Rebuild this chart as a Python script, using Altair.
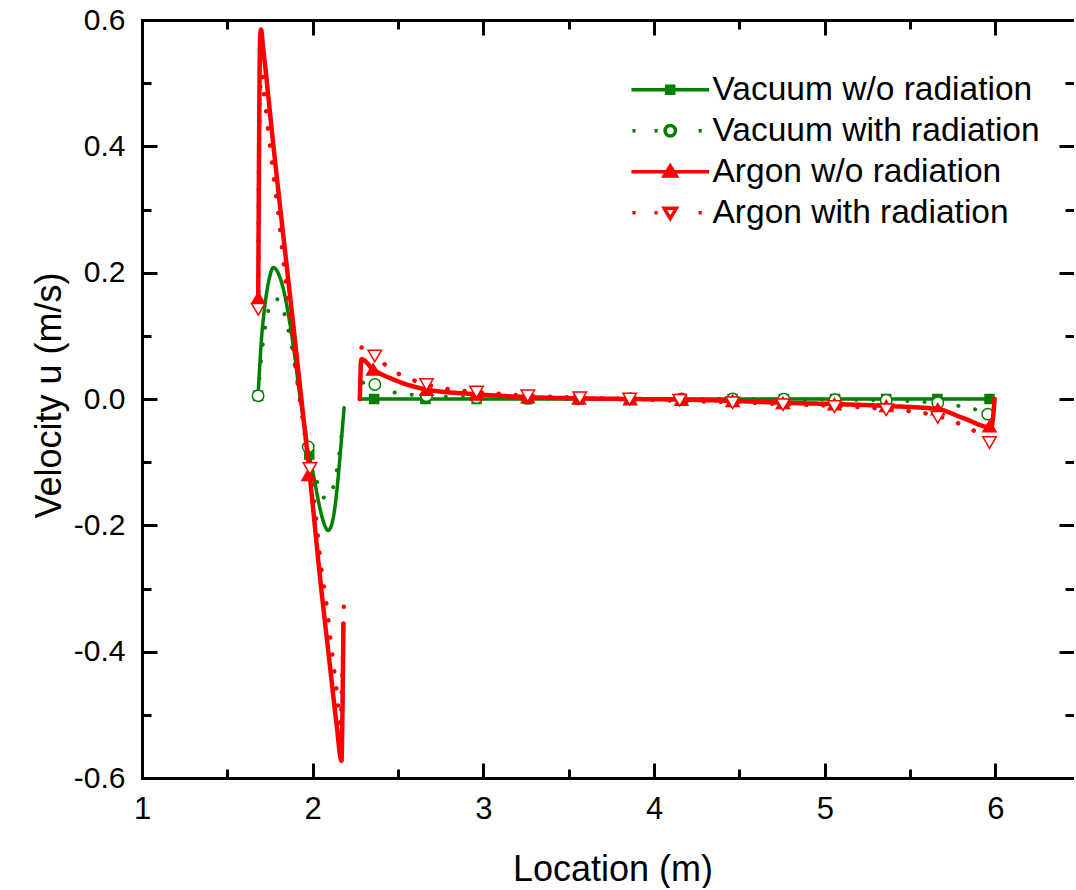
import altair as alt
import pandas as pd

GREEN = "#008000"
RED = "#ff0000"
FONT = "Liberation Sans"

SERIES = ["Vacuum w/o radiation", "Vacuum with radiation",
          "Argon w/o radiation", "Argon with radiation"]

# ---------------- Vacuum w/o radiation (green solid, filled squares)
vac_nr_x1 = [1.680, 1.700, 1.720, 1.745, 1.770, 1.800, 1.830, 1.860, 1.890, 1.920, 1.950,
             1.980, 2.010, 2.040, 2.070, 2.090, 2.110, 2.130, 2.150, 2.165, 2.184]
vac_nr_y1 = [0.005, 0.095, 0.148, 0.190, 0.208, 0.198, 0.172, 0.130, 0.078, 0.015, -0.040,
             -0.088, -0.128, -0.170, -0.200, -0.208, -0.200, -0.172, -0.122, -0.075, -0.014]
vac_nr_x2 = [2.276, 3.0, 4.0, 5.0, 5.975]
vac_nr_y2 = [0.0, 0.0, 0.0, 0.0, 0.0]
vac_nr_mx = [1.68, 1.98, 2.36, 2.66, 2.96, 3.26, 3.56, 3.86, 4.16, 4.46, 4.76, 5.06, 5.36, 5.66, 5.965]
vac_nr_my = [0.005, -0.088, 0, 0, 0, 0, 0, 0, 0, 0, 0, 0, 0, 0, 0]

# ---------------- Vacuum with radiation (green dotted, open circles)
vac_r_x1 = [1.680, 1.700, 1.720, 1.745, 1.770, 1.795, 1.820, 1.850, 1.875, 1.900, 1.930,
            1.960, 1.990, 2.020, 2.050, 2.080, 2.110, 2.140, 2.160, 2.176]
vac_r_y1 = [0.005, 0.068, 0.110, 0.145, 0.158, 0.158, 0.146, 0.118, 0.086, 0.045, -0.005,
            -0.055, -0.095, -0.126, -0.150, -0.158, -0.148, -0.114, -0.078, -0.040]
vac_r_x2 = [2.276, 2.282, 2.316, 2.364, 2.442, 2.560, 2.667, 2.840, 3.100, 3.500, 4.000,
            4.500, 5.000, 5.360, 5.550, 5.662, 5.760, 5.850, 5.955, 5.980]
vac_r_y2 = [0.000, 0.022, 0.028, 0.023, 0.013, 0.0075, 0.005, 0.003, 0.0015, 0.0005, 0.000,
            0.000, -0.001, -0.002, -0.004, -0.006, -0.010, -0.014, -0.024, -0.027]
vac_r_mx = [1.68, 1.974, 2.364, 2.667, 2.96, 3.26, 3.56, 3.86, 4.16, 4.46, 4.76, 5.06, 5.36, 5.662, 5.955]
vac_r_my = [0.005, -0.076, 0.023, 0.005, 0.002, 0.001, 0.0005, 0, 0, 0, -0.0005, -0.001, -0.002, -0.006, -0.024]

# ---------------- Argon w/o radiation (red solid, filled up-triangles)
arg_nr_x1 = [1.681, 1.692, 1.697, 1.710, 1.775, 1.850, 1.935, 1.990, 2.042, 2.100, 2.140,
             2.169, 2.174, 2.180]
arg_nr_y1 = [0.160, 0.570, 0.585, 0.555, 0.388, 0.205, -0.003, -0.140, -0.280, -0.420, -0.515,
             -0.573, -0.500, -0.356]
arg_nr_x2 = [2.276, 2.285, 2.354, 2.472, 2.667, 2.960, 3.260, 3.560, 3.860, 4.160, 4.460,
             4.755, 5.057, 5.360, 5.662, 5.809, 5.975, 5.995]
arg_nr_y2 = [0.000, 0.063, 0.047, 0.031, 0.015, 0.0075, 0.003, 0.001, 0.000, -0.001, -0.003,
             -0.006, -0.008, -0.011, -0.016, -0.030, -0.045, 0.000]
arg_nr_mx = [1.681, 1.975, 2.354, 2.667, 2.96, 3.26, 3.56, 3.86, 4.16, 4.46, 4.755, 5.057, 5.36, 5.662, 5.965]
arg_nr_my = [0.16, -0.12, 0.047, 0.015, 0.0075, 0.003, 0.001, 0, -0.001, -0.003, -0.006, -0.008, -0.011, -0.016, -0.043]

# ---------------- Argon with radiation (red dotted, open down-triangles)
arg_r_x1 = [1.681, 1.688, 1.700, 1.712, 1.740, 1.770, 1.800, 1.830, 1.857, 1.900, 1.940,
            1.984, 2.019, 2.046, 2.081, 2.110, 2.140, 2.162, 2.172, 2.183]
arg_r_y1 = [0.142, 0.450, 0.515, 0.490, 0.424, 0.355, 0.290, 0.215, 0.150, 0.050, -0.030,
            -0.110, -0.188, -0.259, -0.326, -0.394, -0.462, -0.515, -0.450, -0.320]
arg_r_x2 = [2.276, 2.282, 2.290, 2.364, 2.490, 2.608, 2.667, 2.840, 2.960, 3.096, 3.260,
            3.565, 3.857, 4.150, 4.460, 4.755, 5.057, 5.360, 5.662, 5.750, 5.858, 5.965, 5.990]
arg_r_y2 = [0.000, 0.060, 0.087, 0.068, 0.042, 0.028, 0.023, 0.014, 0.011, 0.008, 0.005,
            0.002, 0.000, -0.003, -0.005, -0.008, -0.011, -0.016, -0.027, -0.035, -0.048, -0.065, -0.070]
arg_r_mx = [1.681, 1.984, 2.364, 2.667, 2.96, 3.26, 3.565, 3.857, 4.15, 4.46, 4.755, 5.057, 5.36, 5.662, 5.965]
arg_r_my = [0.142, -0.11, 0.068, 0.023, 0.011, 0.005, 0.002, 0.0, -0.002, -0.006, -0.009, -0.012, -0.017, -0.029, -0.069]

# axis ticks
X_MAJOR = [1, 2, 3, 4, 5, 6]
X_MINOR = [1.5, 2.5, 3.5, 4.5, 5.5]
Y_MAJOR = [-0.6, -0.4, -0.2, 0.0, 0.2, 0.4, 0.6]
Y_MINOR = [-0.5, -0.3, -0.1, 0.1, 0.3, 0.5]
X_DOMAIN = [1, 6.46]
Y_DOMAIN = [-0.6, 0.6]

# legend symbols (line + marker) as custom paths
LEGEND_PATHS = [
    "M-3.7,0H3.7M-0.33,-0.33H0.33V0.33H-0.33Z",
    "M-3.6,0h0.3M-1.5,0h0.3M2.7,0h0.3M0.5,0A0.5,0.5,0,1,1,-0.5,0A0.5,0.5,0,1,1,0.5,0Z",
    "M-3.7,0H3.7M0,-0.55L0.58,0.4H-0.58Z",
    "M-3.6,0h0.3M-1.5,0h0.3M2.7,0h0.3M-0.58,-0.42H0.58L0,0.55Z",
]
LEGEND_FILL = [GREEN, "white", RED, "white"]
LEGEND_STROKE = [GREEN, GREEN, RED, RED]
LEGEND_ROW_Y = [88.5, 129.5, 170.5, 211.5]

# ---------------- build tables
def line_table(name, segs):
    rows = []
    i = 0
    for s, (xs_, ys_) in enumerate(segs):
        for xv, yv in zip(xs_, ys_):
            rows.append({"series": name, "seg": s, "idx": i, "x": xv, "y": yv})
            i += 1
    return pd.DataFrame(rows)

def marker_table(name, xs_, ys_):
    return pd.DataFrame({"series": name, "x": xs_, "y": ys_})

vac_nr_lines = line_table(SERIES[0], [(vac_nr_x1, vac_nr_y1), (vac_nr_x2, vac_nr_y2)])
vac_r_lines = line_table(SERIES[1], [(vac_r_x1, vac_r_y1), (vac_r_x2, vac_r_y2)])
arg_nr_lines = line_table(SERIES[2], [(arg_nr_x1, arg_nr_y1), (arg_nr_x2, arg_nr_y2)])
arg_r_lines = line_table(SERIES[3], [(arg_r_x1, arg_r_y1), (arg_r_x2, arg_r_y2)])

vac_nr_marks = marker_table(SERIES[0], vac_nr_mx, vac_nr_my)
vac_r_marks = marker_table(SERIES[1], vac_r_mx, vac_r_my)
arg_nr_marks = marker_table(SERIES[2], arg_nr_mx, arg_nr_my)
arg_r_marks = marker_table(SERIES[3], arg_r_mx, arg_r_my)

xs = alt.Scale(domain=X_DOMAIN, nice=False, zero=False)
ys = alt.Scale(domain=Y_DOMAIN, nice=False, zero=False)

x_main_axis = alt.Axis(
    orient="bottom", values=X_MAJOR, format="d", ticks=False, tickSize=0, grid=False,
    labelFlush=False, labelBaseline="alphabetic",
    domain=True, domainWidth=3, domainColor="black", domainCap="square",
    labelFont=FONT, labelFontSize=31, labelColor="black", labelPadding=40,
    title="Location (m)", titleFont=FONT, titleFontSize=36, titleFontWeight="normal",
    titleColor="black", titleX=470.5, titleY=102, titleBaseline="alphabetic", titleAlign="center",
)
y_main_axis = alt.Axis(
    orient="left", values=Y_MAJOR, ticks=False, tickSize=0, grid=False, labelFlush=False,
    labelExpr="datum.value < -0.0001 ? '-' + format(-datum.value, '.1f') : format(abs(datum.value), '.1f')",
    domain=True, domainWidth=3, domainColor="black", domainCap="square",
    labelFont=FONT, labelFontSize=30, labelColor="black", labelPadding=17,
    title="Velocity u (m/s)", titleFont=FONT, titleFontSize=36, titleFontWeight="normal",
    titleColor="black", titleX=-82, titleY=375, titleBaseline="alphabetic", titleAlign="center",
    titleAngle=270,
)

def line_layer(df, color, width, dash, with_axes=False):
    return alt.Chart(df).mark_line(
        stroke=color, strokeWidth=width, strokeDash=dash, strokeCap="round",
        strokeJoin="round", interpolate="monotone", clip=True,
    ).encode(
        x=alt.X("x:Q", scale=xs, axis=x_main_axis if with_axes else None),
        y=alt.Y("y:Q", scale=ys, axis=y_main_axis if with_axes else None),
        detail="seg:N",
        order="idx:Q",
    )

def marker_layer(df, shape, size, fill, stroke):
    return alt.Chart(df).mark_point(
        shape=shape, size=size, fill=fill, stroke=stroke, strokeWidth=1.5,
        opacity=1, clip=True,
    ).encode(
        x=alt.X("x:Q", scale=xs, axis=None),
        y=alt.Y("y:Q", scale=ys, axis=None),
    )

def tick_layer(xorient, yorient, xvals, yvals, size):
    def ax(orient, vals):
        return alt.Axis(orient=orient, values=vals, labels=False, domain=False, grid=False,
                        ticks=True, tickSize=size, tickWidth=3, tickColor="black",
                        offset=-size, title=None)
    return alt.Chart(vac_nr_marks).mark_point(opacity=0, size=0).encode(
        x=alt.X("x:Q", scale=xs, axis=ax(xorient, xvals)),
        y=alt.Y("y:Q", scale=ys, axis=ax(yorient, yvals)),
    )

top_domain = alt.Chart(vac_nr_marks).mark_point(opacity=0, size=0).encode(
    x=alt.X("x:Q", scale=xs, axis=alt.Axis(orient="top", labels=False, ticks=False, grid=False,
                                           domain=True, domainWidth=3, domainColor="black",
                                           domainCap="square", title=None)),
    y=alt.Y("y:Q", scale=ys, axis=None),
)

legend_df = pd.DataFrame({"series": SERIES})

def legend_layer(i):
    leg = alt.Legend(
        title=None, orient="none", legendX=511.5, legendY=LEGEND_ROW_Y[i] - 20 - 15.5,
        padding=0, symbolType=LEGEND_PATHS[i], symbolSize=441, symbolStrokeWidth=3.5,
        symbolFillColor=LEGEND_FILL[i], symbolOpacity=1,
        labelFont=FONT, labelFontSize=33.5, labelColor="black", labelOffset=25.5, labelLimit=600,
    )
    return alt.Chart(legend_df).transform_filter("false").mark_point(
        size=441, fill=LEGEND_FILL[i], strokeWidth=3.5, opacity=1, shape=LEGEND_PATHS[i],
    ).encode(
        stroke=alt.Stroke("series:N",
                          scale=alt.Scale(domain=[SERIES[i]], range=[LEGEND_STROKE[i]]),
                          legend=leg),
    )

DOT = [0.1, 17]
layers = [
    line_layer(vac_nr_lines, GREEN, 3.5, [1, 0], with_axes=True),
    marker_layer(vac_nr_marks, "square", 81, GREEN, GREEN),
    line_layer(vac_r_lines, GREEN, 4, DOT),
    marker_layer(vac_r_marks, "circle", 130, "white", GREEN),
    line_layer(arg_nr_lines, RED, 4.5, [1, 0]),
    marker_layer(arg_nr_marks, "triangle-up", 170, RED, RED),
    line_layer(arg_r_lines, RED, 4.5, DOT),
    marker_layer(arg_r_marks, "triangle-down", 180, "white", RED),
    tick_layer("bottom", "left", X_MAJOR, Y_MAJOR, 15),
    tick_layer("bottom", "left", X_MINOR, Y_MINOR, 9),
    tick_layer("top", "right", X_MAJOR, Y_MAJOR, 15),
    tick_layer("top", "right", X_MINOR, Y_MINOR, 9),
    top_domain,
] + [legend_layer(i) for i in range(4)]

chart = alt.layer(*layers).resolve_axis(
    x="independent", y="independent"
).resolve_scale(
    stroke="independent"
).properties(
    width=932, height=758,
    autosize=alt.AutoSizeParams(type="none"),
    padding={"left": 142, "top": 20, "right": 0, "bottom": 110},
    background="white",
).configure_view(stroke=None)

chart.save("out.html", embed_options={"renderer": "svg", "actions": False})
